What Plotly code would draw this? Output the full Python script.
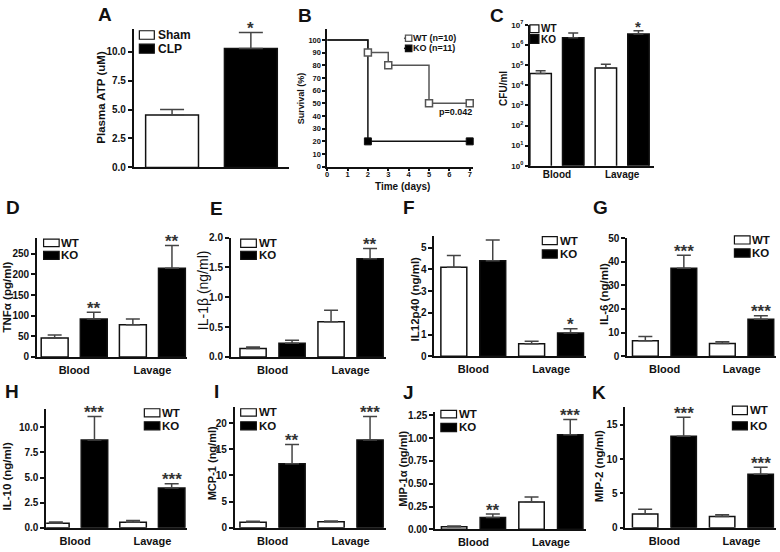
import math
import plotly.graph_objects as go

W, H = 780, 552
FONT = "Arial, Liberation Sans, Helvetica, sans-serif"
INK = "#111111"
ERR = "#444444"
STAR = "#333333"
WTLINE = "#555555"

# ------------------------------------------------------------------ data
groups = ["Blood", "Lavage"]
legend_names = ["WT", "KO"]

# A  plasma ATP (uM)
atp_labels = ["Sham", "CLP"]
atp_mean = [4.52, 10.28]
atp_top = [5.0, 11.65]
atp_sig = ["", "*"]
atp_ticks = [0, 2.5, 5.0, 7.5, 10.0]

# B  survival (%)
days_wt = [0, 2, 3, 5, 7]
surv_wt = [100, 90, 80, 50, 50]
days_ko = [0, 2, 7]
surv_ko = [100, 20, 20]
surv_names = ["WT (n=10)", "KO (n=11)"]
p_text = "p=0.042"
day_ticks = [0, 1, 2, 3, 4, 5, 6, 7]
surv_ticks = [0, 10, 20, 30, 40, 50, 60, 70, 80, 90, 100]

# C  CFU/ml
cfu_wt = [3.8e4, 7.1e4]
cfu_wt_top = [5.2e4, 1.12e5]
cfu_ko = [2.3e6, 3.5e6]
cfu_ko_top = [4.0e6, 5.1e6]
cfu_sig = ["", "*"]
cfu_ticks = [1e0, 1e1, 1e2, 1e3, 1e4, 1e5, 1e6, 1e7]
cfu_ticktext = ["10<sup>%d</sup>" % k for k in range(8)]

# D  TNFa (pg/ml)
tnf_wt = [46, 78]
tnf_wt_top = [53, 92]
tnf_ko = [92, 215]
tnf_ko_top = [108, 270]
tnf_sig = ["**", "**"]
tnf_ticks = [0, 50, 100, 150, 200, 250]

# E  IL-1b (ng/ml)
il1_wt = [0.14, 0.59]
il1_wt_top = [0.165, 0.78]
il1_ko = [0.23, 1.645]
il1_ko_top = [0.28, 1.815]
il1_sig = ["", "**"]
il1_ticks = [0, 0.5, 1.0, 1.5, 2.0]

# F  IL12p40 (ng/ml)
il12_wt = [4.1, 0.57]
il12_wt_top = [4.64, 0.69]
il12_ko = [4.4, 1.07]
il12_ko_top = [5.35, 1.26]
il12_sig = ["", "*"]
il12_ticks = [0, 1, 2, 3, 4, 5]

# G  IL-6 (ng/ml)
il6_wt = [6.6, 5.4]
il6_wt_top = [8.4, 6.1]
il6_ko = [37.2, 15.7]
il6_ko_top = [42.8, 17.1]
il6_sig = ["***", "***"]
il6_ticks = [0, 10, 20, 30, 40, 50]

# H  IL-10 (ng/ml)
il10_wt = [0.45, 0.55]
il10_wt_top = [0.58, 0.71]
il10_ko = [8.73, 3.96]
il10_ko_top = [11.07, 4.38]
il10_sig = ["***", "***"]
il10_ticks = [0, 2.5, 5.0, 7.5, 10.0]

# I  MCP-1 (ng/ml)
mcp_wt = [1.06, 1.12]
mcp_wt_top = [1.25, 1.3]
mcp_ko = [12.2, 16.76]
mcp_ko_top = [15.9, 21.25]
mcp_sig = ["**", "***"]
mcp_ticks = [0, 5, 10, 15, 20]

# J  MIP-1a (ng/ml)
mip1_wt = [0.029, 0.30]
mip1_wt_top = [0.036, 0.354]
mip1_ko = [0.129, 1.036]
mip1_ko_top = [0.168, 1.204]
mip1_sig = ["**", "***"]
mip1_ticks = [0, 0.25, 0.50, 0.75, 1.00, 1.25]

# K  MIP-2 (ng/ml)
mip2_wt = [2.0, 1.62]
mip2_wt_top = [2.71, 1.9]
mip2_ko = [13.33, 7.81]
mip2_ko_top = [16.1, 8.81]
mip2_sig = ["***", "***"]
mip2_ticks = [0, 5, 10, 15]

# ------------------------------------------------------------------ helpers
fig = go.Figure()
layout = dict(width=W, height=H, margin=dict(l=0, r=0, t=0, b=0),
              paper_bgcolor="white", plot_bgcolor="rgba(0,0,0,0)",
              showlegend=False, barmode="overlay",
              font=dict(family=FONT, color=INK))
annotations = []
shapes = []


def fnt(size, weight="bold", color=INK):
    return dict(family=FONT, size=size, color=color, weight=weight)


def text(x, y, s, size, xanchor="center", yanchor="middle", angle=0, weight="bold"):
    annotations.append(dict(x=x / W, y=1 - y / H, xref="paper", yref="paper", text=s,
                            showarrow=False, xanchor=xanchor, yanchor=yanchor,
                            textangle=angle, font=fnt(size, weight)))


def rect(x0, y0, x1, y1, fill, line=INK, lw=1.2):
    shapes.append(dict(type="rect", xref="paper", yref="paper", x0=x0 / W, x1=x1 / W,
                       y0=1 - y1 / H, y1=1 - y0 / H, fillcolor=fill,
                       line=dict(color=line, width=lw), layer="above"))


def line(x0, y0, x1, y1, color, lw=1.5):
    shapes.append(dict(type="line", xref="paper", yref="paper", x0=x0 / W, x1=x1 / W,
                       y0=1 - y0 / H, y1=1 - y1 / H, line=dict(color=color, width=lw),
                       layer="above"))


def axes(i, xpx, ypx, xrange, yrange, xextra=None, yextra=None):
    s = "" if i == 1 else str(i)
    xa = dict(domain=[xpx[0] / W, xpx[1] / W], range=xrange, anchor="y" + s,
              showline=True, linecolor=INK, linewidth=1.5, showgrid=False,
              zeroline=False, ticks="", showticklabels=False, fixedrange=True)
    ya = dict(domain=[1 - ypx[1] / H, 1 - ypx[0] / H], range=yrange, anchor="x" + s,
              showline=True, linecolor=INK, linewidth=1.5, showgrid=False,
              zeroline=False, ticks="outside", ticklen=4, tickwidth=1.5,
              tickcolor=INK, tickfont=fnt(10), fixedrange=True)
    if xextra:
        xa.update(xextra)
    if yextra:
        ya.update(yextra)
    layout["xaxis" + s] = xa
    layout["yaxis" + s] = ya
    return "x" + s, "y" + s


def legend_boxes(x0, x1, rows, tx, size, names):
    for (ya, yb), fill, name in zip(rows, ["white", "black"], names):
        rect(x0, ya, x1, yb, fill)
        text(tx, (ya + yb) / 2, name, size, xanchor="left")


# ------------------------------------------------------------------ A
geoA = dict(x0=132, x1=288, top=23, bot=165, c0=170.5, s=79, bw=53)
a0 = -(geoA["c0"] - geoA["x0"]) / geoA["s"]
a1 = a0 + (geoA["x1"] - geoA["x0"]) / geoA["s"]
xA, yA = axes(1, (geoA["x0"], geoA["x1"]), (geoA["top"], geoA["bot"]), [a0, a1], [0, 12],
              yextra=dict(tickvals=atp_ticks, tickformat=".1f"))
atp_x = list(range(len(atp_labels)))
for k, fill in enumerate(["white", "black"]):
    fig.add_trace(go.Bar(x=[atp_x[k]], y=[atp_mean[k]], width=geoA["bw"] / geoA["s"],
                         xaxis=xA, yaxis=yA, name=atp_labels[k],
                         marker=dict(color=fill, line=dict(color=INK, width=1.5)),
                         error_y=dict(type="data", symmetric=False,
                                      array=[atp_top[k] - atp_mean[k]], arrayminus=[0],
                                      color=ERR, thickness=1.5, width=12)))
for xv, t, sg in zip(atp_x, atp_top, atp_sig):
    if sg:
        annotations.append(dict(x=xv, y=t, xref=xA, yref=yA, text=sg, showarrow=False,
                                yanchor="middle", yshift=4, font=fnt(17, color=STAR)))
legend_boxes(137.7, 152.7, [(25.3, 34), (39, 48.3)], 154, 12, atp_labels)
text(99, 93, "Plasma ATP (uM)", 11.5, angle=-90)
text(94, 9, "A", 19, xanchor="left")

# ------------------------------------------------------------------ B
xB, yB = axes(2, (326, 472), (23, 164.3), [0, 7.15], [0, 109],
              xextra=dict(showticklabels=True, ticks="outside", ticklen=3, tickwidth=1.5,
                          tickcolor=INK, tickvals=day_ticks, tickfont=fnt(7.5),
                          ticklabelstandoff=-3),
              yextra=dict(tickvals=surv_ticks, ticklen=3, tickfont=fnt(7.5)))
fig.add_trace(go.Scatter(x=days_wt, y=surv_wt, mode="lines", line=dict(color=WTLINE, width=1.5, shape="hv"),
                         xaxis=xB, yaxis=yB, name=surv_names[0]))
fig.add_trace(go.Scatter(x=days_ko, y=surv_ko, mode="lines", line=dict(color=INK, width=1.5, shape="hv"),
                         xaxis=xB, yaxis=yB, name=surv_names[1]))
fig.add_trace(go.Scatter(x=days_ko[1:], y=surv_ko[1:], mode="markers", xaxis=xB, yaxis=yB,
                         marker=dict(symbol="square", size=7, color="black", line=dict(color=INK, width=1)),
                         cliponaxis=False))
fig.add_trace(go.Scatter(x=days_wt[1:], y=surv_wt[1:], mode="markers", xaxis=xB, yaxis=yB,
                         marker=dict(symbol="square", size=7, color="white", line=dict(color=WTLINE, width=1.5)),
                         cliponaxis=False))
# B legend
for yy, col, fill, name in [(33, WTLINE, "white", surv_names[0]), (43.3, INK, "black", surv_names[1])]:
    line(403, yy, 411, yy, col)
    rect(404.5, yy - 3.2, 410.9, yy + 3.2, fill, line=col, lw=1.3)
    text(410.5, yy, name, 9, xanchor="left")
text(455, 108, p_text, 9)
text(300, 94, "Survival (%)", 9, angle=-90)
text(402, 184.5, "Time (days)", 10)
text(295, 9.5, "B", 19, xanchor="left")


# ------------------------------------------------------------------ bar panels C-K
def bar_panel(i, wt, wt_top, ko, ko_top, sig, geo, yrange, yextra, xsize=11, cap=7,
              log=False, star_size=17, standoff=2):
    n = len(groups)
    wt_x = [2 * g for g in range(n)]
    ko_x = [2 * g + 1 for g in range(n)]
    s = geo["s"]
    lo = -(geo["c0"] - geo["x0"]) / s
    hi = lo + (geo["x1"] - geo["x0"]) / s
    xr, yr = axes(i, (geo["x0"], geo["x1"]), (geo["top"], geo["bot"]), [lo, hi], yrange,
                  xextra=dict(showticklabels=True, tickvals=[2 * g + 0.5 for g in range(n)],
                              ticktext=groups, tickfont=fnt(xsize), ticklabelstandoff=standoff),
                  yextra=yextra)
    for xs, ys, tops, fill, nm in [(wt_x, wt, wt_top, "white", legend_names[0]),
                                   (ko_x, ko, ko_top, "black", legend_names[1])]:
        fig.add_trace(go.Bar(x=xs, y=ys, width=geo["bw"] / s, xaxis=xr, yaxis=yr, name=nm,
                             marker=dict(color=fill, line=dict(color=INK, width=1.5)),
                             error_y=dict(type="data", symmetric=False,
                                          array=[t - v for t, v in zip(tops, ys)],
                                          arrayminus=[0] * n, color=ERR, thickness=1.5,
                                          width=cap)))
    for xv, t, sg in zip(ko_x, ko_top, sig):
        if sg:
            annotations.append(dict(x=xv, y=math.log10(t) if log else t, xref=xr, yref=yr,
                                    text=sg, showarrow=False, yanchor="middle", yshift=4,
                                    font=fnt(star_size, color=STAR)))


# C
bar_panel(3, cfu_wt, cfu_wt_top, cfu_ko, cfu_ko_top, cfu_sig,
          dict(x0=529, x1=654, top=19.3, bot=163.3, c0=540, s=32.7, bw=21.5), [0, 7],
          dict(type="log", tickvals=cfu_ticks, ticktext=cfu_ticktext, tickfont=fnt(8), ticklen=3),
          xsize=10, cap=5, log=True, star_size=15, standoff=-2)
legend_boxes(529.3, 538.3, [(19.3, 27.3), (29.3, 38.3)], 538.5, 10, legend_names)
text(502, 84, "CFU/ml", 10, angle=-90)
text(487, 9.5, "C", 19, xanchor="left")

# D
bar_panel(4, tnf_wt, tnf_wt_top, tnf_ko, tnf_ko_top, tnf_sig,
          dict(x0=35, x1=185, top=236.7, bot=358.7, c0=52.8, s=39.2, bw=27), [0, 289.5],
          dict(tickvals=tnf_ticks))
legend_boxes(41.7, 57.3, [(238.3, 246), (250.7, 259)], 57.5, 11.5, legend_names)
text(5, 297, "TNFα (pg/ml)", 11.5, angle=-90)
text(2, 206, "D", 19, xanchor="left")

# E
bar_panel(5, il1_wt, il1_wt_top, il1_ko, il1_ko_top, il1_sig,
          dict(x0=229.3, x1=385, top=236.7, bot=358.7, c0=251.7, s=39.1, bw=26.3), [0, 2.0],
          dict(tickvals=il1_ticks, tickformat=".1f"))
legend_boxes(239.3, 255, [(238.3, 246.7), (250.7, 259)], 255.2, 11.5, legend_names)
text(201, 290, "IL-1β (ng/ml)", 14, angle=-90, weight="normal")
text(207, 207, "E", 19, xanchor="left")

# F
bar_panel(6, il12_wt, il12_wt_top, il12_ko, il12_ko_top, il12_sig,
          dict(x0=433.3, x1=585, top=235, bot=358, c0=453, s=39, bw=26), [0, 5.54],
          dict(tickvals=il12_ticks))
legend_boxes(541.7, 556.7, [(235.7, 244), (249.3, 257.7)], 557, 11.5, legend_names)
text(414, 299, "IL12p40 (ng/ml)", 11.5, angle=-90)
text(400, 206, "F", 19, xanchor="left")

# G
bar_panel(7, il6_wt, il6_wt_top, il6_ko, il6_ko_top, il6_sig,
          dict(x0=626.7, x1=776, top=237.3, bot=358, c0=645, s=38.6, bw=25.8), [0, 50],
          dict(tickvals=il6_ticks))
legend_boxes(734.3, 750, [(235, 243.3), (248.3, 256.7)], 750.2, 11.5, legend_names)
text(603, 294, "IL-6 (ng/ml)", 11.5, angle=-90)
text(591, 206, "G", 19, xanchor="left")

# H
bar_panel(8, il10_wt, il10_wt_top, il10_ko, il10_ko_top, il10_sig,
          dict(x0=44.3, x1=185, top=411.7, bot=533.3, c0=54, s=38.7, bw=26.6), [0, 11.85],
          dict(tickvals=il10_ticks, tickformat=".1f"))
legend_boxes(142.7, 158.3, [(411.7, 420), (425, 433.3)], 158.5, 11.5, legend_names)
text(5, 480, "IL-10 (ng/ml)", 11.5, angle=-90)
text(1, 394, "H", 19, xanchor="left")

# I
bar_panel(9, mcp_wt, mcp_wt_top, mcp_ko, mcp_ko_top, mcp_sig,
          dict(x0=233.3, x1=385, top=410, bot=533.3, c0=251.7, s=39.1, bw=26.3), [0, 23.05],
          dict(tickvals=mcp_ticks))
legend_boxes(239.3, 255, [(411.7, 419.3), (425, 433.3)], 255.2, 11.5, legend_names)
text(210, 467, "MCP-1 (ng/ml)", 11, angle=-90)
text(211, 394, "I", 19, xanchor="left")

# J
bar_panel(10, mip1_wt, mip1_wt_top, mip1_ko, mip1_ko_top, mip1_sig,
          dict(x0=434.3, x1=585, top=415, bot=535, c0=453.3, s=38.8, bw=25.5), [0, 1.286],
          dict(tickvals=mip1_ticks, tickformat=".2f"))
legend_boxes(440, 455.7, [(413.3, 421), (426.7, 435)], 456, 11.5, legend_names)
text(402, 473, "MIP-1α (ng/ml)", 11, angle=-90)
text(400, 395, "J", 19, xanchor="left")

# K
bar_panel(11, mip2_wt, mip2_wt_top, mip2_ko, mip2_ko_top, mip2_sig,
          dict(x0=625, x1=776, top=410, bot=533.3, c0=644.8, s=38.6, bw=25.5), [0, 17.6],
          dict(tickvals=mip2_ticks))
legend_boxes(732.3, 747.3, [(409, 417.7), (425, 433.3)], 747.5, 11.5, legend_names)
text(598, 470, "MIP-2 (ng/ml)", 11.5, angle=-90)
text(590, 395, "K", 19, xanchor="left")

layout["annotations"] = annotations
layout["shapes"] = shapes
fig.update_layout(**layout)
fig.update_traces(hoverinfo="skip")
fig.write_html("out.html", config={"displayModeBar": False},
               post_script="document.body.style.margin='0';document.body.style.overflow='hidden';")
